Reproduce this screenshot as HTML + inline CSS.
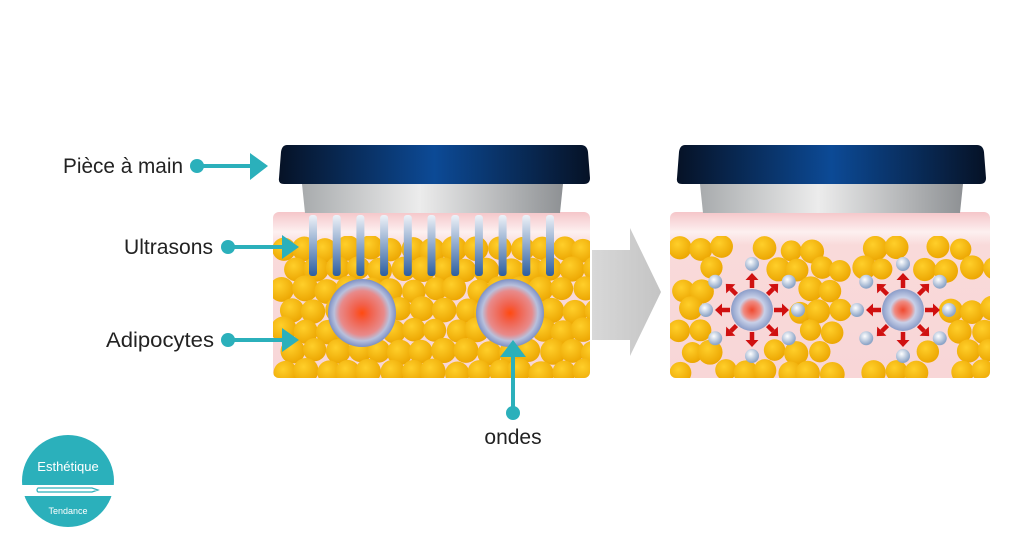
<!DOCTYPE html>
<html><head><meta charset="utf-8"><style>
html,body{margin:0;padding:0;background:#fff;width:1024px;height:544px;overflow:hidden}
svg{display:block}
text{font-family:"Liberation Sans",sans-serif}
</style></head><body>
<svg id="s" width="1024" height="544" viewBox="0 0 1024 544" xmlns="http://www.w3.org/2000/svg">
<defs>
<linearGradient id="cap" x1="0" x2="1"><stop offset="0" stop-color="#061226"/><stop offset="0.5" stop-color="#0c4a96"/><stop offset="1" stop-color="#061226"/></linearGradient>
<linearGradient id="gray" x1="0" x2="1"><stop offset="0" stop-color="#a8abad"/><stop offset="0.45" stop-color="#ececec"/><stop offset="1" stop-color="#8e9194"/></linearGradient>
<linearGradient id="skin" x1="0" y1="0" x2="0" y2="1"><stop offset="0" stop-color="#f5c6c9"/><stop offset="0.12" stop-color="#fdf0f0"/><stop offset="0.2" stop-color="#f9dada"/><stop offset="1" stop-color="#f8d6d7"/></linearGradient>
<linearGradient id="needle" x1="0" y1="0" x2="0" y2="1"><stop offset="0" stop-color="#eef2f8"/><stop offset="1" stop-color="#2c5ea0"/></linearGradient>
<linearGradient id="arr" x1="0" x2="1"><stop offset="0" stop-color="#d8d8d8"/><stop offset="1" stop-color="#c4c4c4"/></linearGradient>
<radialGradient id="fat" cx="0.4" cy="0.35" r="0.7"><stop offset="0" stop-color="#ffcf2a"/><stop offset="1" stop-color="#eba400"/></radialGradient>
<radialGradient id="bub" cx="0.5" cy="0.5" r="0.5"><stop offset="0" stop-color="#ff4a10"/><stop offset="0.25" stop-color="#f2604a"/><stop offset="0.65" stop-color="#e88a8a"/><stop offset="0.82" stop-color="#b8c0dc"/><stop offset="1" stop-color="#7d90c4"/></radialGradient>
<radialGradient id="cell" cx="0.5" cy="0.5" r="0.5"><stop offset="0" stop-color="#f04a30"/><stop offset="0.4" stop-color="#f08a80"/><stop offset="0.6" stop-color="#c8d0e8"/><stop offset="1" stop-color="#8a9cc8"/></radialGradient>
<radialGradient id="ball" cx="0.4" cy="0.35" r="0.6"><stop offset="0" stop-color="#ffffff"/><stop offset="1" stop-color="#8ea6c8"/></radialGradient>
<clipPath id="c1"><rect x="273" y="236" width="317" height="142" rx="6"/></clipPath>
<clipPath id="c2"><rect x="670" y="236" width="320" height="142" rx="6"/></clipPath>
</defs>

<rect x="273" y="212" width="317" height="166" rx="6" fill="url(#skin)"/>
<g id="fatL" clip-path="url(#c1)"></g>
<path d="M302 184 H563 L560 213 H305 Z" fill="url(#gray)"/>
<path d="M287 145 H581 Q587 145 588 152 L590 178 Q590 184 584 184 H284 Q278 184 279 178 L281 152 Q282 145 287 145 Z" fill="url(#cap)"/>
<g id="needles"></g>
<circle cx="362" cy="313" r="34" fill="url(#bub)"/>
<circle cx="510" cy="313" r="34" fill="url(#bub)"/>

<path d="M592 250 H630 V228 L661 292 L630 356 V340 H592 Z" fill="url(#arr)"/>

<rect x="670" y="212" width="320" height="166" rx="6" fill="url(#skin)"/>
<g id="fatR" clip-path="url(#c2)"></g>
<path d="M700 184 H963 L960 213 H703 Z" fill="url(#gray)"/>
<path d="M685 145 H977 Q983 145 984 152 L986 178 Q986 184 980 184 H682 Q676 184 677 178 L679 152 Q680 145 685 145 Z" fill="url(#cap)"/>
<g id="cells"></g>

<g fill="#2bb0bb" stroke="#2bb0bb">
<circle cx="197" cy="166" r="7" stroke="none"/><line x1="197" y1="166" x2="252" y2="166" stroke-width="4"/><path d="M250 153 L268 166 L250 180 Z" stroke="none"/>
<circle cx="228" cy="247" r="7" stroke="none"/><line x1="228" y1="247" x2="284" y2="247" stroke-width="4"/><path d="M282 235 L299 247 L282 259 Z" stroke="none"/>
<circle cx="228" cy="340" r="7" stroke="none"/><line x1="228" y1="340" x2="284" y2="340" stroke-width="4"/><path d="M282 328 L299 340 L282 352 Z" stroke="none"/>
<circle cx="513" cy="413" r="7" stroke="none"/><line x1="513" y1="413" x2="513" y2="355" stroke-width="4"/><path d="M500 357 L513 340 L526 357 Z" stroke="none"/>
</g>
<g font-size="21" fill="#222">
<text x="63" y="173" textLength="120" lengthAdjust="spacingAndGlyphs">Pièce à main</text>
<text x="124" y="254" textLength="89" lengthAdjust="spacingAndGlyphs">Ultrasons</text>
<text x="106" y="347" textLength="108" lengthAdjust="spacingAndGlyphs">Adipocytes</text>
<text x="513" y="444" text-anchor="middle">ondes</text>
</g>

<circle cx="68" cy="481" r="46" fill="#2bb0bb"/>
<rect x="20" y="485" width="96" height="11" fill="#fff"/>
<path d="M38 488 H92 L98 490 L92 492 H38 Q36 490 38 488 Z" fill="none" stroke="#2bb0bb" stroke-width="1.2"/>
<text x="68" y="471" font-size="13" fill="#fff" text-anchor="middle">Esthétique</text>
<text x="68" y="514" font-size="9" fill="#fff" text-anchor="middle">Tendance</text>
</svg>
<script>
var NS="http://www.w3.org/2000/svg";
function el(p,t,a){var e=document.createElementNS(NS,t);for(var k in a)e.setAttribute(k,a[k]);p.appendChild(e);return e;}
var seed=7;function rnd(){seed=(seed*9301+49297)%233280;return seed/233280;}
var fl=document.getElementById("fatL");
for(var r=0;r<7;r++)for(var c=0;c<15;c++){
 var x=284+c*21.5+(r%2?10:0)+(rnd()-0.5)*5, y=249+r*20.5+(rnd()-0.5)*4;
 el(fl,"circle",{cx:x,cy:y,r:11.5+rnd()*1.5,fill:"url(#fat)"});
}
var fr=document.getElementById("fatR");
var skip=[[752,310,45],[903,310,45]];
for(var r=0;r<7;r++)for(var c=0;c<15;c++){
 var x=681+c*21.5+(r%2?10:0)+(rnd()-0.5)*6, y=249+r*20.5+(rnd()-0.5)*5;
 var ok=true;for(var i=0;i<skip.length;i++){var dx=x-skip[i][0],dy=y-skip[i][1];if(dx*dx+dy*dy<skip[i][2]*skip[i][2])ok=false;}
 if(rnd()<0.15)ok=false;
 if(ok)el(fr,"circle",{cx:x,cy:y,r:10.5+rnd()*2,fill:"url(#fat)"});
}
var nd=document.getElementById("needles");
for(var i=0;i<11;i++){var x=313+i*23.7;el(nd,"rect",{x:x-4,y:215,width:8,height:61,rx:3,fill:"url(#needle)"});}
var ce=document.getElementById("cells");
[[752,310],[903,310]].forEach(function(p){
 for(var k=0;k<8;k++){var a=k*Math.PI/4-Math.PI/2;var ca=Math.cos(a),sa=Math.sin(a);
  var x1=p[0]+ca*22,y1=p[1]+sa*22,x2=p[0]+ca*30,y2=p[1]+sa*30;
  el(ce,"line",{x1:x1,y1:y1,x2:x2,y2:y2,stroke:"#d01010","stroke-width":4.5});
  var hx=p[0]+ca*37,hy=p[1]+sa*37,px=-sa,py=ca;
  el(ce,"path",{d:"M"+hx+" "+hy+" L"+(x2+px*6.5)+" "+(y2+py*6.5)+" L"+(x2-px*6.5)+" "+(y2-py*6.5)+"Z",fill:"#d01010"});
  var bx=p[0]+ca*46,by=p[1]+sa*46;
  if(k%2==1){bx=p[0]+ca*52;by=p[1]+sa*40;}
  el(ce,"circle",{cx:bx,cy:by,r:7,fill:"url(#ball)"});
 }
 el(ce,"circle",{cx:p[0],cy:p[1],r:21,fill:"url(#cell)"});
});
</script>
</body></html>
